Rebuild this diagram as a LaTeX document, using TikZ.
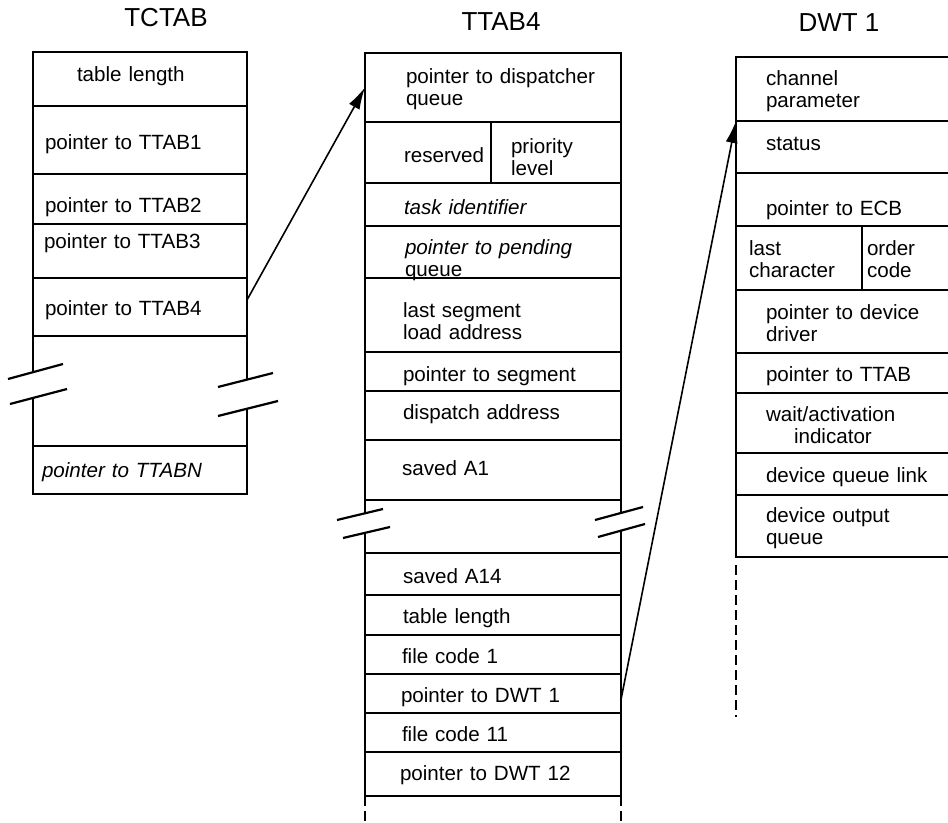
\documentclass[tikz,border=0pt]{standalone}
\usepackage{fontspec}
\setmainfont{Liberation Sans}
\usetikzlibrary{positioning, arrows.meta}
\newcommand{\rowfont}{\fontsize{10.3}{11}\selectfont}
% single line: shift up (or down) with fixed height and depth
\newcommand{\rowshift}[2]{\raisebox{#1}[7.5pt][2.2pt]{#2}}
% two lines: push the text down
\newcommand{\rowdrop}[1]{\rule{0pt}{\dimexpr 7.6pt+#1*2\relax}}
\tikzset{
  % one row of a table: width and text indent, both in px
  cell/.style 2 args={draw, anchor=north west, inner xsep=0pt, inner ysep=0pt,
    outer sep=0pt, font=\rowfont, minimum width=#1*0.5pt, text width=#1*0.5pt,
    execute at begin node={\leftskip=\dimexpr #2pt/2\relax}},
  rowh/.style={minimum height=#1*0.5pt},
  title/.style={font=\fontsize{13}{15}\selectfont, inner sep=0pt},
  cont/.style={dash pattern=on 5pt off 2.5pt},
  link/.style={->, line width=0.8pt},
  >={Latex[length=11pt, width=6pt]}
}

\begin{document}
\begin{tikzpicture}[x=0.5pt, y=-0.5pt, line width=1.1pt]
  \path[use as bounding box] (0,0) rectangle (948,823);
  \clip (0,0) rectangle (948,823);

  % TCTAB
  \node[cell={214}{44}, rowh=54] (tc1) at (33,52) {\rowshift{1.5pt}{table length}};
  \node[cell={214}{12}, rowh=68, below=0pt of tc1] (tc2) {\rowshift{-2pt}{pointer to TTAB1}};
  \node[cell={214}{12}, rowh=50, below=0pt of tc2] (tc3) {\rowshift{-4pt}{pointer to TTAB2}};
  \node[cell={214}{11}, rowh=54, below=0pt of tc3] (tc4) {\rowshift{4pt}{pointer to TTAB3}};
  \node[cell={214}{12}, rowh=58, below=0pt of tc4] (tc5) {\rowshift{-1.5pt}{pointer to TTAB4}};
  \node[cell={214}{9}, rowh=48, below=55pt of tc5] (tc6) {\rowshift{-1pt}{\itshape pointer to TTABN}};
  \node[title, above=12pt of tc1, xshift=13pt] (tctitle) {TCTAB};

  \draw (tc5.south west) -- (33,372) (33,398) -- (tc6.north west)
        (tc5.south east) -- (247,380) (247,409) -- (tc6.north east);
  \draw (8,379) -- (63,364) (10,404) -- (67,389)
        (218,387) -- (273,373) (218,416) -- (278,401);

  % TTAB4
  \node[cell={256}{41}, rowh=69] (tt1) at (365,53) {\rowdrop{0.75pt}pointer to dispatcher\\queue};
  \node[cell={126}{39}, rowh=61, below=0pt of tt1.south west, anchor=north west] (tt2a) {\rowshift{-2.6pt}{reserved}};
  \node[cell={130}{20}, rowh=61, right=0pt of tt2a] (tt2b) {\rowdrop{2.25pt}priority\\level};
  \node[cell={256}{39}, rowh=43, below=0pt of tt2a.south west, anchor=north west] (tt3) {\rowshift{-2.6pt}{\itshape task identifier}};
  \node[cell={256}{40}, rowh=52, below=0pt of tt3] (tt4) {\rowdrop{2.8pt}\textit{pointer to pending}\\\raisebox{0pt}[5pt][0pt]{queue}};
  \node[cell={256}{38}, rowh=74, below=0pt of tt4] (tt5) {\rowdrop{3.25pt}last segment\\load address};
  \node[cell={256}{38}, rowh=39, below=0pt of tt5] (tt6) {\rowshift{-2.5pt}{pointer to segment}};
  \node[cell={256}{38}, rowh=49, below=0pt of tt6] (tt7) {\rowshift{0.5pt}{dispatch address}};
  \node[cell={256}{37}, rowh=60, below=0pt of tt7] (tt8) {\rowshift{0pt}{saved A1}};
  \node[cell={256}{38}, rowh=42, below=26.5pt of tt8] (tt9) {\rowshift{-2.1pt}{saved A14}};
  \node[cell={256}{38}, rowh=40, below=0pt of tt9] (tt10) {\rowshift{-1.5pt}{table length}};
  \node[cell={256}{37}, rowh=39, below=0pt of tt10] (tt11) {\rowshift{-1.6pt}{file code 1}};
  \node[cell={256}{36}, rowh=39, below=0pt of tt11] (tt12) {\rowshift{-2pt}{pointer to DWT 1}};
  \node[cell={256}{37}, rowh=39, below=0pt of tt12] (tt13) {\rowshift{-1.6pt}{file code 11}};
  \node[cell={256}{35}, rowh=44, below=0pt of tt13] (tt14) {\rowshift{-0.5pt}{pointer to DWT 12}};
  \node[title, above=10.5pt of tt1, xshift=4pt] (tttitle) {TTAB4};

  \draw (tt8.south west) -- (365,513) (365,533) -- (tt9.north west)
        (tt8.south east) -- (621,513) (621,531) -- (tt9.north east);
  \draw (337,520) -- (383,509) (343,538) -- (390,527)
        (595,520) -- (643,507) (598,537) -- (645,524);
  \draw[cont] (tt14.south west) -- ++(0,40) (tt14.south east) -- ++(0,40);

  % DWT 1
  \node[cell={216}{30}, rowh=64] (dw1) at (736,57) {\rowdrop{1pt}channel\\parameter};
  \node[cell={216}{30}, rowh=52, below=0pt of dw1] (dw2) {\rowshift{1pt}{status}};
  \node[cell={216}{30}, rowh=53, below=0pt of dw2] (dw3) {\rowshift{-5.25pt}{pointer to ECB}};
  \node[cell={126}{13}, rowh=64, below=0pt of dw3.south west, anchor=north west] (dw4a) {\rowdrop{0.5pt}last\\character};
  \node[cell={90}{5}, rowh=64, right=0pt of dw4a] (dw4b) {\rowdrop{0.5pt}order\\code};
  \node[cell={216}{30}, rowh=63, below=0pt of dw4a.south west, anchor=north west] (dw5) {\rowdrop{0.75pt}pointer to device\\driver};
  \node[cell={216}{30}, rowh=40, below=0pt of dw5] (dw6) {\rowshift{-1.5pt}{pointer to TTAB}};
  \node[cell={216}{30}, rowh=60, below=0pt of dw6] (dw7) {\rowdrop{1pt}wait/activation\\\hspace*{14pt}indicator};
  \node[cell={216}{30}, rowh=42, below=0pt of dw7] (dw8) {\rowshift{-1.5pt}{device queue link}};
  \node[cell={216}{30}, rowh=62, below=0pt of dw8] (dw9) {\rowdrop{1pt}device output\\queue};
  \node[title, above=12pt of dw1, xshift=-2.5pt] (dwtitle) {DWT 1};

  \draw[cont] ([yshift=-4pt]dw9.south west) -- ++(0,152);

  % pointers
  \draw[link] ([yshift=3.5pt]tc5.east) -- (tt1.west);
  \draw[link] ([yshift=-3pt]tt12.east) -- (dw2.north west);
\end{tikzpicture}
\end{document}
